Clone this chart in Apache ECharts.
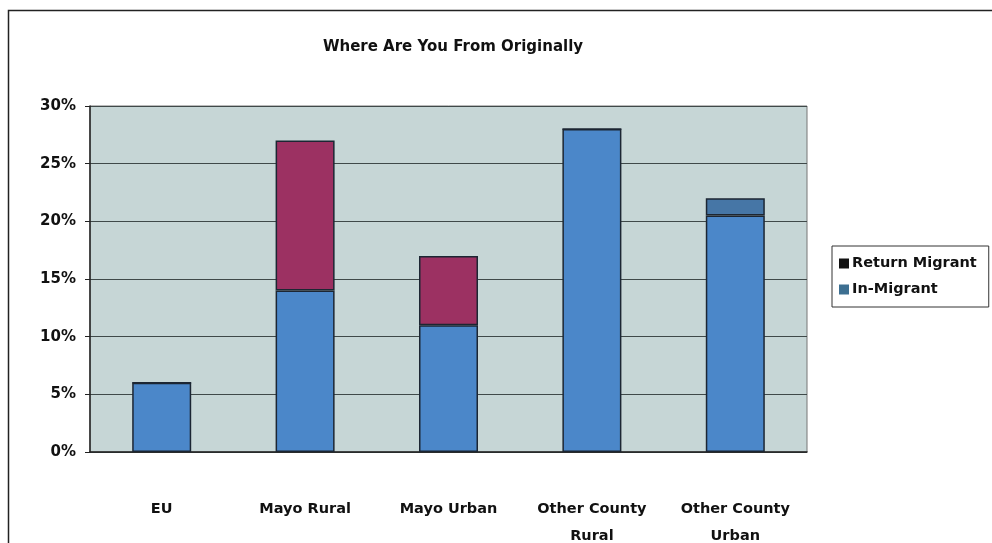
<!DOCTYPE html>
<html>
<head>
<meta charset="utf-8">
<script src="https://cdn.jsdelivr.net/npm/echarts@6/dist/echarts.min.js"></script>
<style>
  html, body { margin: 0; padding: 0; background: #ffffff; }
  #chart { width: 992px; height: 543px; }
</style>
</head>
<body>
<div id="chart"></div>
<script>
// Origin categories and percentage shares per migrant type
const categories = ['EU', 'Mayo Rural', 'Mayo Urban', 'Other County\nRural', 'Other County\nUrban'];
const inMigrant = [6, 14, 11, 28, 20.5];
const returnMigrant = [0, 13, 6, 0, 1.5];
const yTicks = [0, 5, 10, 15, 20, 25, 30];

const font = 'DejaVu Sans, Verdana, sans-serif';
const blue = '#4b87c9';
const maroon = '#9c3162';
const edge = '#1c2633';

const chart = echarts.init(document.getElementById('chart'), null, { renderer: 'canvas' });

chart.setOption({
  backgroundColor: '#ffffff',
  animation: false,
  title: {
    text: 'Where Are You From Originally',
    left: 448,
    top: 35,
    textAlign: 'center',
    textStyle: { fontFamily: font, fontWeight: 'bold', fontSize: 15, color: '#111' }
  },
  graphic: [{
    type: 'rect',
    shape: { x: 8.5, y: 10.5, width: 1000, height: 560 },
    style: { fill: 'none', stroke: '#222', lineWidth: 1.5 },
    silent: true
  }],
  legend: {
    orient: 'vertical',
    left: 832,
    top: 246,
    itemWidth: 10,
    itemHeight: 10,
    itemGap: 11,
    padding: [10, 12, 10, 7],
    borderColor: '#333',
    borderWidth: 1,
    backgroundColor: '#ffffff',
    textStyle: { fontFamily: font, fontWeight: 'bold', fontSize: 14.5, color: '#111', padding: [0, 0, 0, -2] },
    data: [
      { name: 'Return Migrant', icon: 'rect', itemStyle: { color: '#111111', borderWidth: 0 } },
      { name: 'In-Migrant', icon: 'rect', itemStyle: { color: '#3d6f91', borderWidth: 0 } }
    ]
  },
  grid: {
    left: 90, right: 185, top: 106, bottom: 91,
    outerBoundsMode: 'none', containLabel: false,
    show: true, backgroundColor: '#c6d6d6', borderColor: '#777', borderWidth: 1
  },
  xAxis: {
    type: 'category',
    data: categories,
    axisLine: { lineStyle: { color: '#222', width: 1.5 } },
    axisTick: { show: false },
    axisLabel: {
      fontFamily: font, fontWeight: 'bold', fontSize: 14.5, color: '#111',
      margin: 44, lineHeight: 27, interval: 0
    }
  },
  yAxis: {
    type: 'value',
    min: yTicks[0],
    max: yTicks[yTicks.length - 1],
    interval: 5,
    axisLine: { show: true, lineStyle: { color: '#222', width: 1.5 } },
    axisTick: { show: true, length: 5, lineStyle: { color: '#222' } },
    splitLine: { lineStyle: { color: '#3f4949', width: 1.2 } },
    axisLabel: {
      fontFamily: font, fontWeight: 'bold', fontSize: 15, color: '#111', margin: 14,
      formatter: v => v + '%'
    }
  },
  series: [
    {
      name: 'In-Migrant',
      type: 'bar',
      stack: 'origin',
      barWidth: 59,
      data: inMigrant,
      itemStyle: { color: blue, borderColor: edge, borderWidth: 1.5 }
    },
    {
      name: 'Return Migrant',
      type: 'bar',
      stack: 'origin',
      barWidth: 59,
      data: returnMigrant.map((v, i) => ({
        value: v,
        itemStyle: i === 4 ? { color: '#4676a6' } : undefined
      })),
      itemStyle: { color: maroon, borderColor: edge, borderWidth: 1.5 }
    }
  ]
});
</script>
</body>
</html>
